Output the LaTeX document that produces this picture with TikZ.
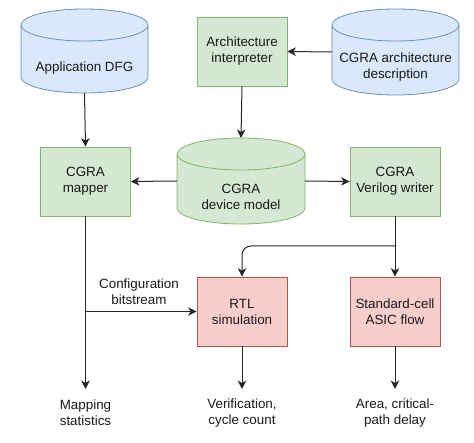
\documentclass[tikz,border=0pt]{standalone}
\usepackage{fontspec}
\setmainfont{Liberation Sans}
\usetikzlibrary{arrows.meta,calc}
\definecolor{bfill}{HTML}{DAE8FC}
\definecolor{bdraw}{HTML}{6C8EBF}
\definecolor{gfill}{HTML}{D5E8D4}
\definecolor{gdraw}{HTML}{82B366}
\definecolor{rfill}{HTML}{F8CECC}
\definecolor{rdraw}{HTML}{B85450}
\newcommand{\cylshape}[3]{%
  \draw[#2] let \p1=(#1.north west), \p2=(#1.south east), \n1={(\x2-\x1)/2} in
    ([yshift=-#3]\p1) -- ([yshift=#3]\x1,\y2) arc[start angle=180,end angle=360,x radius=\n1,y radius=#3]
    -- ([yshift=-#3]\x2,\y1) arc[start angle=0,end angle=180,x radius=\n1,y radius=#3] -- cycle
    ([yshift=-#3]\p1) arc[start angle=180,end angle=360,x radius=\n1,y radius=#3];%
}
\begin{document}
\begin{tikzpicture}[x=1pt,y=-1pt,
  every node/.style={font=\fontsize{13.4}{16}\selectfont, align=center, text=black!90},
  box/.style={draw, line width=0.8pt, minimum width=90pt, minimum height=69pt, inner sep=2pt},
  gbox/.style={box, fill=gfill, draw=gdraw},
  rbox/.style={box, fill=rfill, draw=rdraw},
  cylarea/.style={inner sep=0pt, outer sep=0pt},
  bcyl/.style={fill=bfill, draw=bdraw, line width=0.8pt},
  gcyl/.style={fill=gfill, draw=gdraw, line width=0.8pt},
  lab/.style={inner sep=0pt},
  arr/.style={draw=black!85, line width=1pt, -{Stealth[length=8.5pt,width=8.5pt,inset=2.5pt]}}
]
\useasboundingbox (0,0) rectangle (474,443);
% cylinder areas
\node[cylarea, minimum width=127pt, minimum height=84pt] (dfg) at (84.5,51) {};
\node[cylarea, minimum width=127pt, minimum height=86pt] (arch) at (395.5,52) {};
\node[cylarea, minimum width=128pt, minimum height=86pt] (dev) at (241,181) {};
\cylshape{dfg}{bcyl}{16pt}
\cylshape{arch}{bcyl}{16pt}
\cylshape{dev}{gcyl}{16pt}
\node[lab] (dfgt) at (84.5,68) {Application DFG};
\node[lab] (archt) at (395.5,67) {CGRA architecture\\description};
\node[lab] (devt) at (241,197) {CGRA\\device model};
% boxes
\node[gbox] (interp) at (242,51.5) {Architecture\\interpreter};
\node[gbox] (mapper) at (85.5,181.5) {CGRA\\mapper};
\node[gbox] (writer) at (395,181.5) {CGRA\\Verilog writer};
\node[rbox] (rtl) at (242,311.5) {RTL\\simulation};
\node[rbox] (asic) at (395,311.5) {Standard-cell\\ASIC flow};
% outputs
\node[lab] (mapout) at (85.5,413) {Mapping\\statistics};
\node[lab] (rtlout) at (242,413) {Verification,\\cycle count};
\node[lab] (asicout) at (395,413) {Area, critical-\\path delay};
\coordinate (mapend) at (85.5,389);
\coordinate (rtlend) at (242,389);
\coordinate (asicend) at (395,389);
\coordinate (cb) at (85.5,311.5);
\coordinate (br) at (395,246);
\node[lab] (cbt) at (139,292) {Configuration\\bitstream};
% connectors
\draw[arr] (arch.west) -- (interp.east);
\draw[arr] (interp.south) -- (dev.north);
\draw[arr] (dfg.south) -- (mapper.north);
\draw[arr] (dev.west) -- (mapper.east);
\draw[arr] (dev.east) -- (writer.west);
\draw[arr] (mapper.south) -- (mapend);
\draw[arr] (cb) -- (rtl.west);
\draw[arr] (writer.south) -- (asic.north);
\draw[arr, rounded corners=9pt] (br) -| (rtl.north);
\draw[arr] (rtl.south) -- (rtlend);
\draw[arr] (asic.south) -- (asicend);
\end{tikzpicture}
\end{document}
